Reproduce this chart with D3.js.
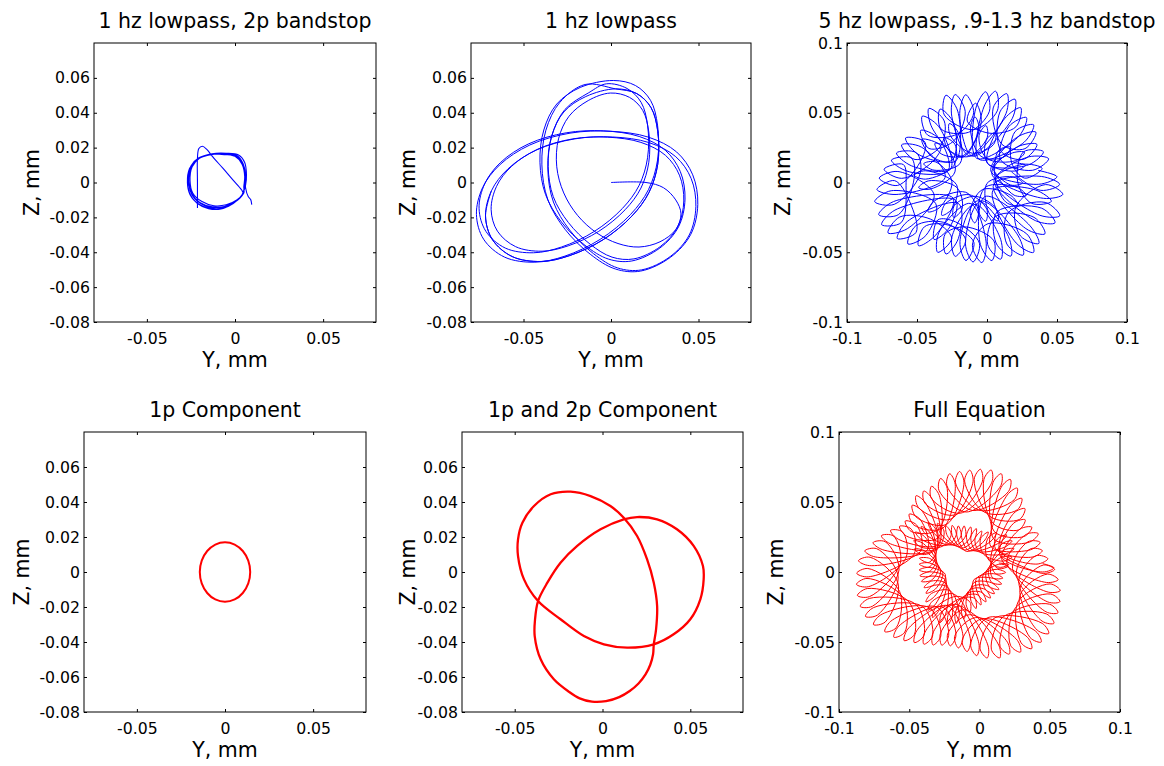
<!DOCTYPE html>
<html>
<head>
<meta charset="utf-8">
<script src="https://cdn.jsdelivr.net/npm/d3@7"></script>
<style>
body { margin: 0; background: #fff; }
text { font-family: "DejaVu Sans", sans-serif; fill: #000; }
</style>
</head>
<body>
<script>
// ---------------------------------------------------------------------------
// Data: orbit traces, Y and Z in mm
// ---------------------------------------------------------------------------
var titles = ["1 hz lowpass, 2p bandstop", "1 hz lowpass", "5 hz lowpass, .9-1.3 hz bandstop",
              "1p Component", "1p and 2p Component", "Full Equation"];

var ticksNarrowX = [-0.05, 0, 0.05];
var ticksNarrowY = [-0.08, -0.06, -0.04, -0.02, 0, 0.02, 0.04, 0.06];
var ticksWide    = [-0.1, -0.05, 0, 0.05, 0.1];

// 1 hz lowpass, 2p bandstop
var bandstopStart = [[-0.0213,-0.0146],[-0.0213,0.0],[-0.0213,0.014],[-0.0205,0.0195],[-0.0185,0.0208],
  [-0.0160,0.0190],[-0.0127,0.0148],[-0.0069,0.0082],[-0.0012,0.0015],[0.0037,-0.0042]];
var bandstopLoops = [
  [0.0046,-0.0065],[0.0,-0.0110],[-0.0060,-0.0138],[-0.0130,-0.0140],[-0.0200,-0.0115],[-0.0245,-0.0065],
  [-0.0262,0.0005],[-0.0250,0.0085],[-0.0210,0.0135],[-0.0140,0.0160],[-0.0060,0.0165],[0.0010,0.0155],
  [0.0045,0.0110],[0.0058,0.0040],[0.0055,-0.0020],
  [0.0040,-0.0070],[-0.0010,-0.0120],[-0.0070,-0.0148],[-0.0135,-0.0150],[-0.0205,-0.0125],[-0.0255,-0.0070],
  [-0.0270,0.0],[-0.0258,0.0080],[-0.0220,0.0130],[-0.0150,0.0158],[-0.0070,0.0163],[0.0,0.0150],
  [0.0040,0.0105],[0.0055,0.0035],[0.0050,-0.0025],
  [0.0050,-0.0060],[0.0010,-0.0100],[-0.0050,-0.0128],[-0.0120,-0.0133],[-0.0190,-0.0108],[-0.0240,-0.0060],
  [-0.0255,0.0010],[-0.0243,0.0090],[-0.0200,0.0140],[-0.0130,0.0165],[-0.0050,0.0168],[0.0020,0.0158],
  [0.0055,0.0115],[0.0065,0.0045],[0.0060,-0.0015],
  [0.0035,-0.0080],[-0.0020,-0.0125],[-0.0080,-0.0152],[-0.0150,-0.0150],[-0.0215,-0.0120],[-0.0258,-0.0060],
  [-0.0268,0.0015],[-0.0250,0.0095],[-0.0205,0.0142],[-0.0135,0.0162],[-0.0060,0.0160],[0.0010,0.0148],
  [0.0048,0.0100],[0.0060,0.0030],[0.0052,-0.0030],
  [0.0045,-0.0068],[0.0,-0.0112],[-0.0065,-0.0140],[-0.0135,-0.0143],[-0.0200,-0.0118],[-0.0248,-0.0063],
  [-0.0262,0.0008],[-0.0248,0.0088],[-0.0205,0.0138],[-0.0138,0.0160],[-0.0060,0.0162],[0.0008,0.0150],
  [0.0045,0.0105],[0.0058,0.0035]];
var bandstopTail = [[0.0060,-0.0030],[0.0075,-0.0080],[0.0089,-0.0098],[0.0095,-0.0127]];

// 1 hz lowpass: start transient then several passes of the trefoil
var lowpassStart = [[0,0],[0.02,0],[0.03,-0.003],[0.037,-0.01],[0.04,-0.018],[0.037,-0.027],[0.028,-0.034],
  [0.016,-0.037],[0.004,-0.035],[-0.008,-0.029],[-0.019,-0.019],[-0.027,-0.006],[-0.031,0.009],[-0.03,0.025],
  [-0.024,0.038],[-0.013,0.047]];
var lowpassPassS = [[-0.0004,0.0513],[0.0106,0.0488],[0.0181,0.0414],[0.0216,0.029],[0.0216,0.0116],
  [0.0171,-0.0032],[0.0081,-0.0156],[-0.007,-0.028],[-0.0244,-0.0363],[-0.0394,-0.0394],[-0.0545,-0.0368],
  [-0.0649,-0.0279],[-0.0685,-0.0155],[-0.0654,-0.0022],[-0.0569,0.0092],[-0.0419,0.0191],[-0.0219,0.025],
  [-0.0019,0.026],[0.0171,0.023],[0.0311,0.0156],[0.0391,0.0042],[0.0416,-0.0106],[0.0381,-0.0254],
  [0.0281,-0.0368],[0.0131,-0.0438],[0.0006,-0.0428],[-0.0119,-0.0354],[-0.0244,-0.0229],[-0.033,-0.0081],
  [-0.0359,0.0092],[-0.0339,0.0265],[-0.027,0.0404],[-0.0144,0.0493]];
var lowpassPassM1 = [[0.0026,0.0537],[0.0147,0.051],[0.0229,0.0429],[0.0267,0.0294],[0.0267,0.0104],
  [0.0217,-0.0057],[0.0119,-0.0193],[-0.0045,-0.0328],[-0.0236,-0.0419],[-0.0399,-0.0453],[-0.0564,-0.0425],
  [-0.0678,-0.0327],[-0.0717,-0.0192],[-0.0683,-0.0047],[-0.059,0.0077],[-0.0427,0.0186],[-0.0208,0.025],
  [0.001,0.0261],[0.0217,0.0229],[0.037,0.0148],[0.0458,0.0023],[0.0485,-0.0138],[0.0447,-0.0301],
  [0.0338,-0.0425],[0.0175,-0.0501],[0.0038,-0.049],[-0.0099,-0.0409],[-0.0236,-0.0273],[-0.0329,-0.0112],
  [-0.0361,0.0077],[-0.0339,0.0267],[-0.0263,0.0419],[-0.0127,0.0515]];
var lowpassPassM2 = [[-0.0026,0.0566],[0.0092,0.0539],[0.0172,0.046],[0.0209,0.0328],[0.0209,0.0142],
  [0.0161,-0.0016],[0.0065,-0.0149],[-0.0096,-0.0281],[-0.0283,-0.037],[-0.0443,-0.0403],[-0.0604,-0.0376],
  [-0.0715,-0.028],[-0.0754,-0.0148],[-0.0721,-0.0006],[-0.063,0.0116],[-0.047,0.0222],[-0.0256,0.0285],
  [-0.0042,0.0296],[0.0161,0.0264],[0.031,0.0185],[0.0396,0.0063],[0.0423,-0.0095],[0.0386,-0.0254],
  [0.0279,-0.0376],[0.0119,-0.045],[-0.0015,-0.0439],[-0.0149,-0.036],[-0.0283,-0.0227],[-0.0374,-0.0069],
  [-0.0406,0.0116],[-0.0384,0.0301],[-0.031,0.045],[-0.0176,0.0545]];
var lowpassPassB = [[0.0013,0.0585],[0.014,0.0556],[0.0226,0.0471],[0.0266,0.0329],[0.0266,0.0129],
  [0.0214,-0.0041],[0.0111,-0.0184],[-0.0062,-0.0326],[-0.0263,-0.0422],[-0.0435,-0.0457],[-0.0608,-0.0428],
  [-0.0728,-0.0325],[-0.0769,-0.0183],[-0.0734,-0.003],[-0.0636,0.0101],[-0.0464,0.0215],[-0.0234,0.0283],
  [-0.0004,0.0294],[0.0214,0.026],[0.0375,0.0175],[0.0467,0.0044],[0.0496,-0.0126],[0.0456,-0.0297],
  [0.0341,-0.0428],[0.0169,-0.0508],[0.0025,-0.0496],[-0.0119,-0.0411],[-0.0263,-0.0268],[-0.0361,-0.0098],
  [-0.0395,0.0101],[-0.0372,0.03],[-0.0292,0.046],[-0.0148,0.0562]];

// 5 hz lowpass, .9-1.3 hz bandstop: loops in path order around centre,
// [angle deg, tip r, inner-turn r, inner-turn angle offset deg]
var wideCenter = [-0.012, 0.002];
var wideLoops = [
  [2,.062,.016,20],[36,.058,.034,12],[67,.067,.017,24],[100,.062,.030,14],[135,.050,.017,22],[166,.058,.040,12],
  [201,.070,.018,26],[232,.060,.036,13],[267,.058,.016,22],[298,.062,.030,12],[333,.068,.017,25],
  [9,.052,.032,13],[41,.060,.016,26],[74,.066,.036,12],[106,.063,.017,22],[140,.045,.030,15],[173,.062,.046,12],
  [207,.071,.018,28],[239,.050,.032,12],[272,.059,.017,24],[305,.066,.036,14],[338,.069,.018,22],
  [15,.058,.026,18],[48,.060,.016,25],[80,.064,.034,12],[113,.055,.019,20],[147,.055,.038,14],[179,.065,.028,24],
  [213,.070,.040,12],[246,.057,.017,24],[278,.060,.034,14],[311,.069,.018,24],[345,.060,.034,12],
  [21,.056,.017,22],[55,.063,.036,13],[86,.055,.017,24],[120,.059,.032,12],[153,.055,.018,22],[186,.067,.046,14],
  [219,.067,.019,25],[252,.056,.034,12],[285,.060,.016,26],[317,.067,.038,12],[351,.067,.016,24],
  [28,.054,.030,14],[61,.066,.017,24],[93,.061,.034,12],[127,.057,.016,24],[160,.056,.036,13],[193,.070,.030,22],
  [226,.064,.036,12],[259,.056,.018,22],[291,.061,.032,14],[324,.066,.017,24],[357,.064,.030,14]];
// inner loops sitting round the small hole near the middle
var wideHoleCenter = [-0.010, 0.006];
var wideInnerLoops = [
  [10,.038,.013,28],[62,.034,.015,30],[115,.040,.012,26],[168,.036,.016,32],[220,.042,.014,28],[272,.035,.013,30],
  [325,.039,.016,26],[36,.033,.014,30],[88,.041,.015,28],[141,.035,.013,32],[194,.040,.015,26],[246,.034,.016,30],
  [298,.038,.012,28],[350,.036,.015,30],[23,.040,.015,26],[75,.036,.013,30],[128,.033,.015,28],[181,.042,.014,32],
  [233,.037,.015,26],[285,.035,.013,30],[338,.041,.015,28]];

// 1p component
var oneP = [[0.0143,0],[0.0132,0.0065],[0.0101,0.012],[0.0055,0.0157],[0,0.017],[-0.0055,0.0157],
  [-0.0101,0.012],[-0.0132,0.0065],[-0.0143,0],[-0.0132,-0.0065],[-0.0101,-0.012],[-0.0055,-0.0157],
  [0,-0.017],[0.0055,-0.0157],[0.0101,-0.012],[0.0132,-0.0065]];

// 1p and 2p component
var oneTwoP = [[-0.0182,0.0459],[-0.0068,0.0434],[0.0045,0.0377],[0.0121,0.031],[0.0197,0.0206],
  [0.0254,0.0072],[0.0292,-0.0061],[0.0311,-0.0194],[0.0305,-0.0328],[0.0292,-0.0413],[0.0288,-0.0470],
  [0.0272,-0.0530],[0.0245,-0.0585],[0.0205,-0.0637],[0.0155,-0.0680],[0.0095,-0.0715],[0.0020,-0.0738],
  [-0.0060,-0.0741],[-0.0130,-0.0722],[-0.0190,-0.0685],[-0.0277,-0.0613],[-0.0352,-0.0499],[-0.0386,-0.0366],
  [-0.0384,-0.027],[-0.0367,-0.0166],[-0.0314,-0.0061],[-0.0239,0.0053],[-0.0144,0.0149],[-0.0011,0.0244],
  [0.0121,0.0301],[0.0197,0.0314],[0.0311,0.0301],[0.0424,0.0244],[0.0519,0.0149],[0.0572,0.0034],
  [0.0576,-0.0042],[0.0557,-0.0156],[0.05,-0.027],[0.0405,-0.0356],[0.0292,-0.0413],[0.014,-0.0432],
  [0.0008,-0.0413],[-0.0106,-0.0366],[-0.0239,-0.027],[-0.0367,-0.0166],[-0.0447,-0.0042],[-0.0481,0.0091],
  [-0.0481,0.0187],[-0.0456,0.0282],[-0.039,0.0377],[-0.0295,0.0444]];

// Full equation: loops in path order around centre,
// [angle deg, tip r, inner-turn r, inner-turn angle offset deg]
var fullCenter = [-0.013, 0.003];
var fullOuterLoops = [
  [0,.066,.029,18],[37,.057,.039,18],[73,.073,.039,18],[110,.062,.027,18],[146,.053,.035,18],
  [183,.0745,.047,18],[220,.071,.033,18],[256,.057,.030,18],[293,.070,.046,18],[329,.077,.042,18],
  [6,.062,.030,18],[43,.062,.042,18],[79,.0717,.038,18],[116,.061,.023,18],[152,.057,.040,18],
  [189,.0755,.0465,18],[226,.069,.031,18],[262,.0563,.034,18],[299,.0705,.048,18],[335,.076,.0395,18],
  [12,.059,.028,18],[49,.0657,.043,18],[85,.070,.0355,18],[122,.0607,.022,18],[158,.0613,.0435,18],
  [195,.0765,.0445,18],[232,.066,.0287,18],[268,.0573,.037,18],[305,.0735,.048,18],[341,.0743,.0365,18],
  [18,.059,.026,18],[55,.0695,.043,18],[91,.0688,.0327,18],[128,.0567,.0233,18],[164,.0653,.0443,18],
  [201,.077,.0415,18],[238,.063,.0273,18],[274,.060,.0393,18],[311,.0765,.0472,18],[347,.0723,.0327,18],
  [24,.060,.031,18],[61,.0722,.0417,18],[97,.0677,.0312,18],[134,.0533,.0273,18],[170,.0697,.0453,18],
  [207,.0765,.039,18],[244,.0607,.0263,18],[280,.0637,.0403,18],[317,.0778,.0462,18],[353,.0695,.0295,18],
  [30,.058,.035,18],[67,.073,.040,18],[103,.0655,.0318,18],[140,.052,.0313,18],[176,.0733,.0463,18],
  [213,.0745,.0365,18],[250,.0587,.0273,18],[286,.067,.043,18],[323,.078,.0443,18],[359,.0665,.029,18]];
var fullInnerLoops = [
  [4,.034,.0198,20],[45,.0355,.0135,20],[86,.030,.0167,20],[126,.040,.0212,20],[167,.0305,.0148,20],
  [208,.030,.0157,20],[249,.042,.0218,20],[290,.031,.0139,20],[330,.031,.018,20],
  [12,.037,.0186,20],[53,.032,.0123,20],[94,.030,.0179,20],[134,.041,.020,20],[175,.030,.0136,20],
  [216,.031,.0169,20],[257,.0415,.0203,20],[298,.030,.0124,20],[338,.031,.0196,20],
  [20,.040,.0174,20],[61,.030,.0129,20],[102,.031,.0191,20],[142,.0415,.0187,20],[183,.030,.0123,20],
  [224,.035,.0182,20],[265,.0399,.0187,20],[306,.030,.0132,20],[346,.0305,.0212,20],
  [28,.041,.0162,20],[69,.030,.0141,20],[110,.032,.0203,20],[150,.039,.0175,20],[191,.030,.013,20],
  [232,.0385,.0195,20],[273,.0365,.0168,20],[314,.030,.0148,20],[354,.0318,.0216,20],
  [36,.040,.0149,20],[77,.030,.0153,20],[118,.036,.0215,20],[158,.036,.0162,20],[199,.030,.0142,20],
  [240,.041,.0207,20],[281,.0325,.0157,20],[322,.030,.0164,20],[2,.0335,.0202,20]];

// ---------------------------------------------------------------------------
// Drawing
// ---------------------------------------------------------------------------
var svg = d3.select('body').append('svg')
    .attr('width', 1164)
    .attr('height', 766);

var fmt = function (d) { return d === 0 ? '0' : String(d); };

function clean_axis(g) {
    g.select('.domain').remove();
    g.attr('font-family', null).attr('font-size', null);
    g.selectAll('line').attr('stroke', '#000');
    g.selectAll('text').attr('fill', '#000').style('font-size', '15.7px');
}

// box: pixel frame of the axes, gap: distance of the rotated Z label
function draw_axes(box, xd, yd, xt, yt, title, gap) {
    var x = d3.scaleLinear().domain(xd).range([box.left, box.right]);
    var y = d3.scaleLinear().domain(yd).range([box.bottom, box.top]);
    var g = svg.append('g');

    g.append('g').attr('transform', 'translate(0,' + box.bottom + ')')
        .call(d3.axisBottom(x).tickValues(xt).tickSize(-3).tickPadding(10.4).tickFormat(fmt))
        .call(clean_axis);
    g.append('g').attr('transform', 'translate(0,' + box.top + ')')
        .call(d3.axisTop(x).tickValues(xt).tickSize(-3).tickFormat(''))
        .call(clean_axis);
    g.append('g').attr('transform', 'translate(' + box.left + ',0)')
        .call(d3.axisLeft(y).tickValues(yt).tickSize(-3).tickPadding(4).tickFormat(fmt))
        .call(clean_axis);
    g.append('g').attr('transform', 'translate(' + box.right + ',0)')
        .call(d3.axisRight(y).tickValues(yt).tickSize(-3).tickFormat(''))
        .call(clean_axis);

    g.append('rect')
        .attr('x', box.left).attr('y', box.top)
        .attr('width', box.right - box.left).attr('height', box.bottom - box.top)
        .attr('fill', 'none').attr('stroke', '#000').attr('stroke-width', 1);

    var cx = (box.left + box.right) / 2;
    var cy = (box.top + box.bottom) / 2;
    g.append('text').attr('x', cx).attr('y', box.top - 15)
        .attr('text-anchor', 'middle').style('font-size', '20.5px').text(title);
    g.append('text').attr('x', cx).attr('y', box.bottom + 44.5)
        .attr('text-anchor', 'middle').style('font-size', '20.5px').text('Y, mm');
    g.append('text')
        .attr('transform', 'translate(' + (box.left - gap) + ',' + cy + ') rotate(-90)')
        .attr('text-anchor', 'middle').style('font-size', '20.5px').text('Z, mm');

    var plot = svg.append('g');
    return { x: x, y: y, g: plot };
}

function draw_trace(ax, points, color, width, curve) {
    var line = d3.line()
        .x(function (d) { return ax.x(d[0]); })
        .y(function (d) { return ax.y(d[1]); })
        .curve(curve);
    ax.g.append('path')
        .attr('d', line(points))
        .attr('fill', 'none')
        .attr('stroke', color)
        .attr('stroke-width', width)
        .attr('stroke-linejoin', 'round');
}

function polar(c, deg, r) {
    var t = deg * Math.PI / 180;
    return [c[0] + r * Math.cos(t), c[1] + r * Math.sin(t)];
}

// each row becomes one small loop: out to the tip, round it, back in to the inner turn
function loop_points(rows, c, reach, half) {
    var pts = [];
    rows.forEach(function (r) {
        var e = half / (r[1] - reach) * 180 / Math.PI;
        pts.push(polar(c, r[0] + e, r[1] - reach));
        pts.push(polar(c, r[0], r[1]));
        pts.push(polar(c, r[0] - e, r[1] - reach));
        pts.push(polar(c, r[0] + r[3], r[2]));
    });
    return pts;
}

var blue = '#0000ff';
var red = '#ff0000';
var narrow = [-0.08, 0.08];
var wide = [-0.1, 0.1];

var ax1 = draw_axes({left: 94, right: 376, top: 43, bottom: 322}, narrow, narrow,
    ticksNarrowX, ticksNarrowY, titles[0], 55);
draw_trace(ax1, [].concat(bandstopStart, bandstopLoops, bandstopTail), blue, 1.1, d3.curveCatmullRom);

var ax2 = draw_axes({left: 471, right: 751, top: 43, bottom: 322}, narrow, narrow,
    ticksNarrowX, ticksNarrowY, titles[1], 56);
draw_trace(ax2, [].concat(lowpassStart, lowpassPassS, lowpassPassM1, lowpassPassM2, lowpassPassB,
    lowpassPassM1.slice(0, 14)), blue, 1, d3.curveCatmullRom);

var ax3 = draw_axes({left: 847, right: 1127, top: 43, bottom: 322}, wide, wide,
    ticksWide, ticksWide, titles[2], 57);
draw_trace(ax3, loop_points(wideLoops, wideCenter, 0.013, 0.005), blue, 1, d3.curveCatmullRom);
draw_trace(ax3, loop_points(wideInnerLoops, wideHoleCenter, 0.008, 0.003), blue, 1, d3.curveCatmullRom);

var ax4 = draw_axes({left: 84, right: 366, top: 432, bottom: 712}, narrow, narrow,
    ticksNarrowX, ticksNarrowY, titles[3], 55);
draw_trace(ax4, oneP, red, 2, d3.curveCatmullRomClosed);

var ax5 = draw_axes({left: 462, right: 743, top: 432, bottom: 712}, narrow, narrow,
    ticksNarrowX, ticksNarrowY, titles[4], 47);
draw_trace(ax5, oneTwoP, red, 2.3, d3.curveCatmullRomClosed);

var ax6 = draw_axes({left: 839, right: 1120, top: 432, bottom: 712}, wide, wide,
    ticksWide, ticksWide, titles[5], 56.5);
draw_trace(ax6, loop_points(fullOuterLoops, fullCenter, 0.008, 0.003), red, 1, d3.curveCatmullRom);
draw_trace(ax6, loop_points(fullInnerLoops, fullCenter, 0.007, 0.0015), red, 1, d3.curveCatmullRom);
</script>
</body>
</html>
